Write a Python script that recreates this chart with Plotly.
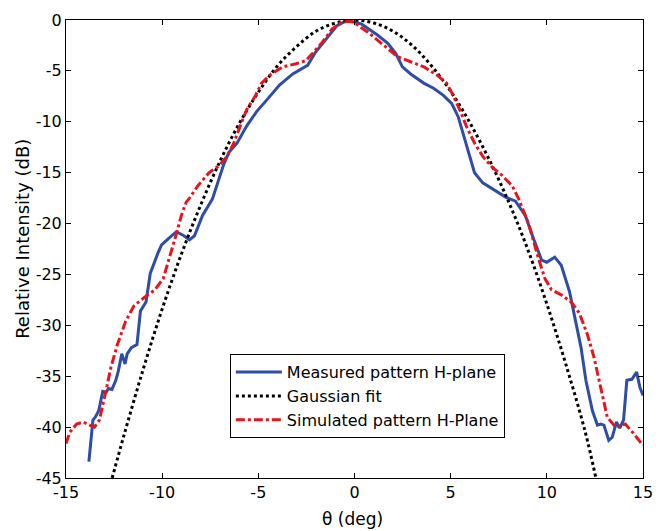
import plotly.graph_objects as go

# Measured pattern H-plane
meas_x = [-13.81, -13.6, -13.47, -13.3, -13.09, -12.92, -12.79, -12.61, -12.41, -12.28, -12.1, -11.93,
          -11.82, -11.6, -11.31, -11.13, -10.84, -10.62, -10.2, -10.03, -9.69, -9.26, -8.87, -8.58,
          -8.32, -7.9, -7.39, -7.04, -6.82, -6.53, -6.11, -5.6, -5.09, -4.49, -3.9, -3.21, -2.44,
          -2.02, -1.42, -0.91, -0.49, 0.02, 0.37, 1.21, 1.73, 2.15, 2.49, 2.92, 3.6, 4.11, 4.62,
          5.05, 5.39, 5.64, 5.9, 6.24, 6.67, 7.35, 7.86, 8.37, 8.88, 9.31, 9.73, 9.99, 10.41,
          10.75, 11.18, 11.43, 11.78, 12.03, 12.37, 12.63, 12.8, 12.97, 13.22, 13.4, 13.62,
          13.79, 13.99, 14.16, 14.42, 14.67, 14.84, 15.0]
meas_y = [-43.4, -39.3, -39.0, -38.4, -36.5, -36.6, -36.2, -36.3, -35.4, -34.5, -32.8, -33.8,
          -32.8, -32.2, -31.9, -28.6, -27.7, -24.9, -22.8, -22.1, -21.5, -20.8, -21.2, -21.6,
          -21.2, -19.2, -17.6, -15.6, -14.3, -13.0, -12.1, -10.4, -9.0, -7.7, -6.4, -5.3, -4.45,
          -3.15, -1.7, -0.55, -0.13, -0.2, -0.4, -1.5, -2.3, -3.3, -4.6, -5.3, -6.2, -6.7, -7.4,
          -8.2, -9.5, -11.1, -13.0, -15.0, -16.0, -16.8, -17.4, -17.8, -19.2, -21.5, -23.6,
          -23.8, -23.3, -24.1, -26.7, -29.0, -32.2, -35.4, -38.4, -39.8, -39.7, -39.8, -41.3,
          -41.0, -39.5, -40.1, -39.3, -35.4, -35.3, -34.6, -36.1, -36.9]

# Gaussian fit
gauss_x = [-12.6, -12.0, -11.0, -10.0, -9.0, -8.0, -7.0, -6.0, -5.0, -4.0, -3.0, -2.0, -1.0, 0.0,
           1.0, 2.0, 3.0, 4.0, 5.0, 6.0, 7.0, 8.0, 9.0, 10.0, 11.0, 12.0, 12.55]
gauss_y = [-45.0, -40.9, -34.4, -28.4, -23.0, -18.2, -13.9, -10.2, -7.1, -4.5, -2.6, -1.1, -0.3, 0.0,
           -0.3, -1.1, -2.5, -4.5, -7.0, -10.1, -13.7, -17.8, -22.5, -27.9, -33.9, -40.5, -45.0]

# Simulated pattern H-Plane
sim_x = [-15.0, -14.8, -14.45, -14.1, -13.77, -13.52, -13.26, -13.09, -12.92, -12.66, -12.33, -11.9,
         -11.47, -10.96, -10.37, -9.94, -9.52, -9.26, -9.0, -8.75, -8.58, -8.15, -7.56, -7.04,
         -6.62, -6.28, -5.94, -5.6, -5.17, -4.83, -4.32, -3.72, -3.04, -2.53, -2.19, -1.68,
         -1.17, -0.66, -0.15, 0.02, 0.7, 1.21, 1.73, 2.24, 2.92, 3.6, 4.28, 4.79, 5.13, 5.47,
         5.81, 6.24, 6.67, 7.18, 7.69, 8.2, 8.54, 9.05, 9.56, 9.9, 10.24, 10.75, 11.26, 11.69,
         12.11, 12.46, 12.8, 13.14, 13.57, 14.08, 14.5, 15.0]
sim_y = [-41.6, -40.5, -39.7, -39.5, -39.8, -40.0, -39.3, -38.0, -36.4, -34.1, -31.9, -29.6,
         -28.1, -27.3, -26.5, -25.4, -22.8, -21.0, -19.2, -17.9, -17.5, -16.3, -15.0, -14.3,
         -13.4, -12.1, -10.4, -8.8, -7.5, -6.2, -5.3, -4.6, -4.3, -4.0, -3.3, -2.2,
         -0.9, -0.2, -0.13, -0.3, -1.2, -2.0, -2.8, -3.6, -4.1, -4.6, -5.4, -6.2, -7.4, -8.8,
         -10.4, -12.1, -13.4, -14.5, -15.3, -16.3, -17.6, -20.0, -23.4, -25.4, -26.5, -27.0,
         -27.7, -28.8, -30.9, -33.2, -36.1, -39.0, -40.0, -39.7, -40.6, -41.8]

x_ticks = [-15, -10, -5, 0, 5, 10, 15]
y_ticks = [0, -5, -10, -15, -20, -25, -30, -35, -40, -45]

FONT = "DejaVu Sans, Arial"

fig = go.Figure()
fig.add_trace(go.Scatter(x=meas_x, y=meas_y, mode="lines", name="Measured pattern H-plane",
                         line=dict(color="#2E4DA7", width=3)))
fig.add_trace(go.Scatter(x=gauss_x, y=gauss_y, mode="lines", name="Gaussian fit",
                         line=dict(color="black", width=3, dash="dot", shape="spline")))
fig.add_trace(go.Scatter(x=sim_x, y=sim_y, mode="lines", name="Simulated pattern H-Plane",
                         line=dict(color="#E8141C", width=3, dash="dashdot")))

axis_common = dict(showgrid=False, zeroline=False, showline=True, linecolor="black", linewidth=1,
                   mirror="ticks", ticks="inside", ticklen=5, tickcolor="black",
                   tickfont=dict(family=FONT, size=16, color="black"))

fig.update_layout(
    width=664, height=531,
    margin=dict(l=66, r=11, t=16, b=53),
    paper_bgcolor="white", plot_bgcolor="white",
    font=dict(family=FONT, size=16, color="black"),
    xaxis=dict(range=[-15, 15], tickvals=x_ticks, ticktext=[str(v) for v in x_ticks],
               **axis_common),
    yaxis=dict(range=[-45, 0], tickvals=y_ticks, ticktext=[str(v) for v in y_ticks],
               **axis_common),
    legend=dict(x=0.284, y=0.1786, xanchor="left", yanchor="middle", bgcolor="white",
                bordercolor="black", borderwidth=1, font=dict(family=FONT, size=16), itemwidth=46,
                tracegroupgap=0),
    showlegend=True,
    annotations=[
        dict(text="Relative Intensity (dB)", xref="paper", yref="paper",
             x=-0.0767, y=0.5216, xanchor="center", yanchor="middle",
             textangle=-90, showarrow=False, font=dict(family=FONT, size=18)),
        dict(text="θ (deg)", xref="paper", yref="paper",
             x=0.497, y=-0.0887, xanchor="center", yanchor="middle",
             showarrow=False, font=dict(family=FONT, size=17)),
    ],
)

fig.write_html("out.html", config={"displayModeBar": False},
               post_script="document.body.style.margin='0';document.body.style.overflow='hidden';")
